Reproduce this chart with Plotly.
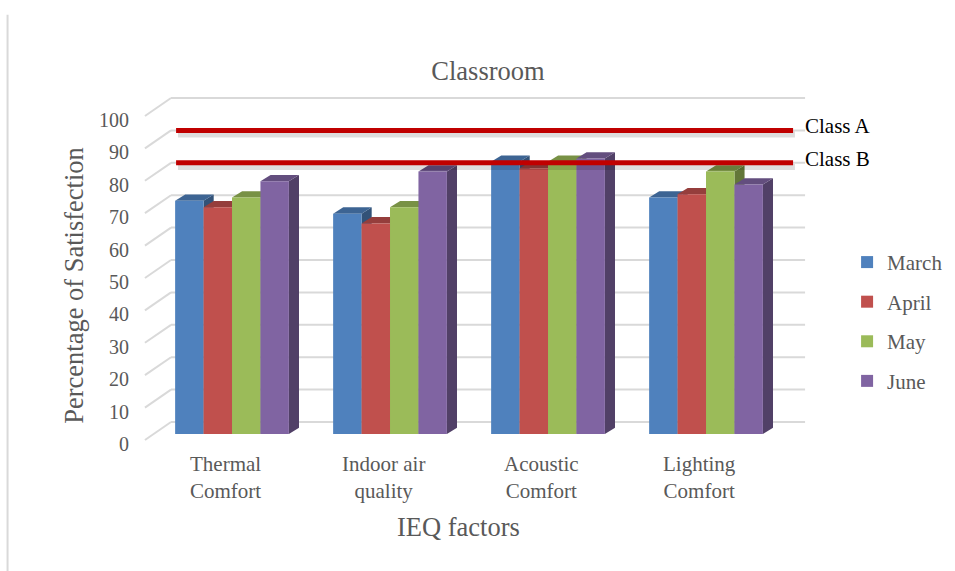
import plotly.graph_objects as go

# ---- data -------------------------------------------------------------
categories = ["Thermal Comfort", "Indoor air quality", "Acoustic Comfort", "Lighting Comfort"]
category_labels = ["Thermal<br>Comfort", "Indoor air<br>quality", "Acoustic<br>Comfort", "Lighting<br>Comfort"]
months = ["March", "April", "May", "June"]
march = [72, 68, 84, 73]
april = [70, 65, 82, 74]
may = [73, 70, 84, 81]
june = [78, 81, 85, 77]
class_names = ["Class A", "Class B"]
class_levels = [90, 80]
value_ticks = list(range(0, 101, 10))

series = [march, april, may, june]
front_colors = ["#4F81BD", "#C0504D", "#9BBB59", "#8064A2"]

# ---- look & geometry of the pseudo-3D frame (axis units) ----------------
FONT = "Liberation Serif, Times New Roman, serif"
GREY_TEXT = "#595959"
GRID = "#D9D9D9"

BAR_W = 0.18            # width of one column
DEPTH_DX = 0.064        # column depth, horizontal component
DEPTH_DY = 1.95         # column depth, vertical component
WALL_DY = 3.7           # back wall lies behind the column fronts
WALL_X0, WALL_X1 = -0.386, 3.627
FRONT_X, FRONT_DY = -0.551, -1.85
CLASS_X0, CLASS_X1 = -0.354, 3.551


def shade(hex_color, k):
    r, g, b = (int(hex_color[i:i + 2], 16) for i in (1, 3, 5))
    return "rgb({},{},{})".format(int(r * k), int(g * k), int(b * k))


def poly(points):
    return "M " + " L ".join("{:.4f},{:.4f}".format(x, y) for x, y in points) + " Z"


shapes = []

# back wall gridlines and the left side wall edges
for t in value_ticks:
    shapes.append(dict(type="line", xref="x", yref="y", layer="below",
                       x0=WALL_X0, x1=WALL_X1, y0=t + WALL_DY, y1=t + WALL_DY,
                       line=dict(color=GRID, width=2)))
    shapes.append(dict(type="line", xref="x", yref="y", layer="below",
                       x0=FRONT_X, x1=WALL_X0, y0=t + FRONT_DY, y1=t + WALL_DY,
                       line=dict(color=GRID, width=2)))

# top and side faces of every column, painted left to right
n = len(series)
group_w = n * BAR_W
for i in range(len(categories)):
    for j, vals in enumerate(series):
        v = vals[i]
        left = i - group_w / 2 + j * BAR_W
        right = left + BAR_W
        side = [(right, 0), (right + DEPTH_DX, DEPTH_DY),
                (right + DEPTH_DX, v + DEPTH_DY), (right, v)]
        top = [(left, v), (right, v), (right + DEPTH_DX, v + DEPTH_DY),
               (left + DEPTH_DX, v + DEPTH_DY)]
        shapes.append(dict(type="path", xref="x", yref="y", layer="below",
                           path=poly(side), fillcolor=shade(front_colors[j], 0.64),
                           line=dict(width=0)))
        shapes.append(dict(type="path", xref="x", yref="y", layer="below",
                           path=poly(top), fillcolor=shade(front_colors[j], 0.78),
                           line=dict(width=0)))

# thin page rule on the left
shapes.append(dict(type="line", xref="paper", yref="paper", x0=0.0079, x1=0.0079,
                   y0=0, y1=0.974, line=dict(color="#D9D9D9", width=2)))

fig = go.Figure()

# column fronts
for j, (name, vals) in enumerate(zip(months, series)):
    fig.add_trace(go.Bar(
        x=list(range(len(categories))), y=vals, name=name,
        marker=dict(color=front_colors[j], line=dict(width=0)),
        legendgroup=name, hovertext=categories,
    ))

# Class A / Class B reference lines with a soft shadow
for name, lvl in zip(class_names, class_levels):
    y_line = lvl + WALL_DY
    fig.add_trace(go.Scatter(
        x=[CLASS_X0 + 0.012, CLASS_X1 + 0.012], y=[y_line - 1.3, y_line - 1.3],
        mode="lines", line=dict(color="rgba(0,0,0,0.13)", width=6),
        showlegend=False, hoverinfo="skip"))
    fig.add_trace(go.Scatter(
        x=[CLASS_X0, CLASS_X1], y=[y_line, y_line], mode="lines",
        line=dict(color="#C00000", width=5), name=name,
        showlegend=False, hoverinfo="skip"))

annotations = []
for name, lvl in zip(class_names, class_levels):
    annotations.append(dict(x=CLASS_X1 + 0.06, y=lvl + WALL_DY + 1.3, xref="x", yref="y",
                            text=name, showarrow=False, xanchor="left", yanchor="middle",
                            font=dict(family=FONT, size=21, color="#000000")))
for i, lab in enumerate(category_labels):
    annotations.append(dict(x=i - 0.042, y=0.163, xref="x", yref="paper",
                            text=lab, showarrow=False, xanchor="center", yanchor="middle",
                            font=dict(family=FONT, size=21, color=GREY_TEXT)))
annotations.append(dict(x=0.4796, y=0.077, xref="paper", yref="paper",
                        text="IEQ factors", showarrow=False, xanchor="center", yanchor="middle",
                        font=dict(family=FONT, size=26.5, color=GREY_TEXT)))

fig.update_layout(
    width=955, height=571,
    margin=dict(l=0, r=0, t=0, b=0),
    paper_bgcolor="white", plot_bgcolor="white",
    barmode="group", bargap=1 - group_w, bargroupgap=0,
    title=dict(text="Classroom", x=0.511, xanchor="center", y=0.877, yanchor="middle",
               font=dict(family=FONT, size=26.5, color=GREY_TEXT)),
    xaxis=dict(range=[-1.4684, 4.5759], visible=False),
    yaxis=dict(range=[-42.284, 133.951], anchor="free", position=0.135, side="left",
               tickvals=value_ticks, ticklabelshift=10,
               showgrid=False, zeroline=False, showline=False, ticks="",
               tickfont=dict(family=FONT, size=20, color=GREY_TEXT),
               title=dict(text="Percentage of Satisfection", standoff=6,
                          font=dict(family=FONT, size=26.5, color=GREY_TEXT))),
    legend=dict(x=0.887, y=0.5763, xanchor="left", yanchor="top",
                traceorder="grouped", tracegroupgap=9.3,
                font=dict(family=FONT, size=21, color=GREY_TEXT),
                bgcolor="rgba(0,0,0,0)"),
    shapes=shapes,
    annotations=annotations,
    showlegend=True,
)

fig.write_html("out.html")
